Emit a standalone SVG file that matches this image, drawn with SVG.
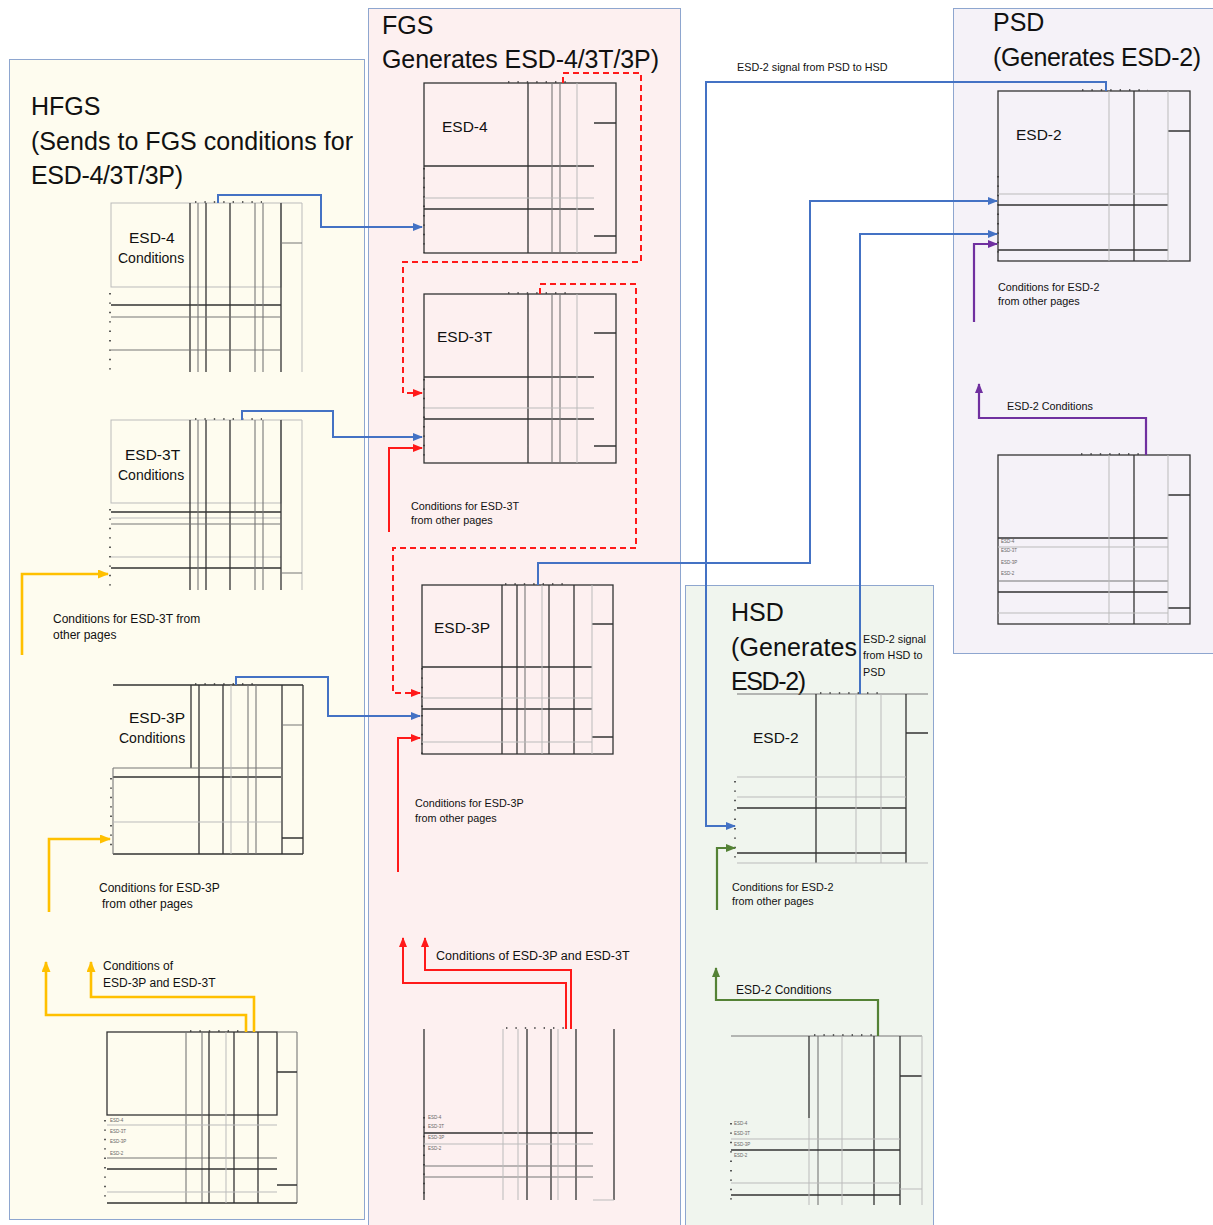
<svg xmlns="http://www.w3.org/2000/svg" width="1213" height="1225" viewBox="0 0 1213 1225">
<style>
.dk{stroke:#333;stroke-width:1.3;fill:none}
.md{stroke:#777;stroke-width:1.1;fill:none}
.lt{stroke:#bbb;stroke-width:1;fill:none}
.dt{stroke:#333;stroke-width:1.6;fill:none;stroke-dasharray:1.4 8}
.t{font-family:"Liberation Sans",Arial,sans-serif;fill:#111}
.ttl{font-size:25px}
.bl{font-size:15.5px}
.bs{font-size:14px}
.sm{font-size:10.8px}
.tiny{font-size:4.5px;fill:#666}
.blue{stroke:#4472c4;stroke-width:2;fill:none}
.red{stroke:#ff1a1a;stroke-width:2;fill:none}
.redd{stroke:#ff1a1a;stroke-width:2;fill:none;stroke-dasharray:6 4}
.yel{stroke:#ffc000;stroke-width:2.6;fill:none}
.grn{stroke:#548235;stroke-width:2.2;fill:none}
.pur{stroke:#7030a0;stroke-width:2.2;fill:none}
</style>
<defs>
<marker id="ab" markerUnits="userSpaceOnUse" markerWidth="10" markerHeight="8" refX="9" refY="4" orient="auto"><path d="M0,0L10,4L0,8z" fill="#4472c4"/></marker>
<marker id="ar" markerUnits="userSpaceOnUse" markerWidth="10" markerHeight="8" refX="9" refY="4" orient="auto"><path d="M0,0L10,4L0,8z" fill="#ff1a1a"/></marker>
<marker id="ay" markerUnits="userSpaceOnUse" markerWidth="11" markerHeight="9" refX="10" refY="4.5" orient="auto"><path d="M0,0L11,4.5L0,9z" fill="#ffc000"/></marker>
<marker id="ag" markerUnits="userSpaceOnUse" markerWidth="10" markerHeight="8" refX="9" refY="4" orient="auto"><path d="M0,0L10,4L0,8z" fill="#548235"/></marker>
<marker id="ap" markerUnits="userSpaceOnUse" markerWidth="10" markerHeight="8" refX="9" refY="4" orient="auto"><path d="M0,0L10,4L0,8z" fill="#7030a0"/></marker>
</defs>
<rect width="1213" height="1225" fill="#ffffff"/>

<g id="panel-hfgs">
<rect x="9.5" y="59.5" width="355" height="1160" fill="#fefcef" stroke="#8ea6cf"/>
<text class="t ttl" x="31" y="115">HFGS</text>
<text class="t ttl" x="31" y="150" textLength="322">(Sends to FGS conditions for</text>
<text class="t ttl" x="31" y="184" textLength="152">ESD-4/3T/3P)</text>
</g>
<g id="panel-fgs">
<rect x="368.5" y="8.5" width="312" height="1225" fill="#fdf0f0" stroke="#8ea6cf"/>
<text class="t ttl" x="382" y="34">FGS</text>
<text class="t ttl" x="382" y="68" textLength="277">Generates ESD-4/3T/3P)</text>
</g>
<g id="panel-psd">
<rect x="953.5" y="8.5" width="265" height="645" fill="#f5f2f8" stroke="#8ea6cf"/>
<text class="t ttl" x="993" y="31">PSD</text>
<text class="t ttl" x="993" y="66" textLength="208">(Generates ESD-2)</text>
</g>
<g id="panel-hsd">
<rect x="685.5" y="585.5" width="248" height="645" fill="#f0f5ee" stroke="#8ea6cf"/>
<text class="t ttl" x="731" y="621">HSD</text>
<text class="t ttl" x="731" y="656" textLength="126">(Generates</text>
<text class="t ttl" x="731" y="690" textLength="75">ESD-2)</text>
</g>

<g id="hfgs-esd4-cond">
<rect x="111" y="203" width="170" height="84" class="lt"/>
<path class="lt" d="M281 203H302M302 203V372"/>
<path class="dk" d="M190 203V372M206 203V372M230 203V372M281 203V372M111 305H281"/>
<path class="md" d="M198 203V372M255 203V372M263 203V372M111 317H281M111 350H281M281 243H302"/>
<path class="dt" d="M110 293V372M195 202H262"/>
<text class="t bl" x="129" y="243">ESD-4</text>
<text class="t bs" x="118" y="263">Conditions</text>
</g>

<g id="hfgs-esd3t-cond">
<rect x="111" y="420" width="170" height="83" class="lt"/>
<path class="lt" d="M281 420H302M302 420V590M111 518H281M111 557H281"/>
<path class="dk" d="M190 420V590M206 420V590M230 420V590M281 420V590M111 512H281M111 568H281"/>
<path class="md" d="M198 420V590M255 420V590M263 420V590M111 524H281M281 573H302"/>
<path class="dt" d="M110 509V590M195 419H262"/>
<text class="t bl" x="125" y="460">ESD-3T</text>
<text class="t bs" x="118" y="480">Conditions</text>
</g>

<g id="hfgs-esd3p-cond">
<path class="dk" d="M113 685H303M191 685V768M113 777H281M199 685V854M223 685V854M282 685V854M303 685V854M282 838H303M113 854H303"/>
<path class="md" d="M113 768H281M248 685V854M256 685V854M282 725H303M113 768V854"/>
<path class="lt" d="M231 685V854M113 822H281"/>
<path class="dt" d="M111 778V852M195 684H260"/>
<text class="t bl" x="129" y="723">ESD-3P</text>
<text class="t bs" x="119" y="743">Conditions</text>
</g>

<g id="hfgs-bottom">
<rect x="107" y="1032" width="170" height="83" class="dk"/>
<path class="md" d="M277 1032H297M297 1032V1203M186 1032V1203M202 1032V1203M107 1158H277"/>
<path class="dk" d="M209 1032V1203M234 1032V1203M258 1032V1203M107 1169H277M107 1203H297M277 1072H297M277 1185H297"/>
<path class="lt" d="M226 1032V1203M107 1125H277M107 1192H277"/>
<path class="dt" d="M105 1120V1203M190 1031H240"/>
<text class="t tiny" x="110" y="1122">ESD-4</text>
<text class="t tiny" x="110" y="1133">ESD-3T</text>
<text class="t tiny" x="110" y="1143">ESD-3P</text>
<text class="t tiny" x="110" y="1155">ESD-2</text>
</g>

<g id="fgs-esd4">
<rect x="424" y="83" width="192" height="170" class="dk"/>
<path class="dk" d="M528 83V253M424 166H594M424 209H594M594 123H616M594 236H616"/>
<path class="md" d="M552 83V253M560 83V253"/>
<path class="lt" d="M577 83V253M424 198H594"/>
<path class="dt" d="M424 168V253M508 82H568"/>
<text class="t bl" x="442" y="132">ESD-4</text>
</g>

<g id="fgs-esd3t">
<rect x="424" y="294" width="192" height="169" class="dk"/>
<path class="dk" d="M528 294V463M424 377H594M424 419H594M594 333H616M594 446H616"/>
<path class="md" d="M552 294V463M560 294V463"/>
<path class="lt" d="M577 294V463M424 408H594"/>
<path class="dt" d="M424 379V463M508 293H572"/>
<text class="t bl" x="437" y="342">ESD-3T</text>
</g>

<g id="fgs-esd3p">
<rect x="422" y="585" width="191" height="169" class="dk"/>
<path class="dk" d="M502 585V754M422 667H592M517 585V754M549 585V754M574 585V754M422 709H592M592 624H613M592 737H613"/>
<path class="md" d="M525 585V754"/>
<path class="lt" d="M542 585V754M592 585V754M422 698H592M422 742H592"/>
<path class="dt" d="M422 668V754M505 584H570"/>
<text class="t bl" x="434" y="633">ESD-3P</text>
</g>

<g id="fgs-bottom">
<path class="dk" d="M424 1029V1200M527 1029V1200M551 1029V1200M576 1029V1200M614 1029V1200M424 1133H593"/>
<path class="md" d="M424 1166H593M424 1177H593"/>
<path class="lt" d="M503 1029V1200M518 1029V1200M558 1029V1200M424 1144H593M593 1200H614"/>
<path class="dt" d="M424 1117V1200M506 1028H572"/>
<text class="t tiny" x="428" y="1119">ESD-4</text>
<text class="t tiny" x="428" y="1128">ESD-3T</text>
<text class="t tiny" x="428" y="1139">ESD-3P</text>
<text class="t tiny" x="428" y="1150">ESD-2</text>
</g>

<g id="psd-esd2">
<rect x="998" y="91" width="192" height="170" class="dk"/>
<path class="dk" d="M1134 91V261M998 205H1168M998 250H1168M1168 131H1190"/>
<path class="lt" d="M1109 91V261M1168 91V261M998 194H1168"/>
<path class="dt" d="M998 176V261M1082 90H1148"/>
<text class="t bl" x="1016" y="140">ESD-2</text>
</g>

<g id="psd-bottom">
<rect x="998" y="455" width="192" height="169" class="dk"/>
<path class="dk" d="M1134 455V624M998 538H1168M998 592H1168M1168 495H1190M1168 608H1190"/>
<path class="md" d="M998 581H1168"/>
<path class="lt" d="M1109 455V624M1168 455V624M998 547H1168M998 613H1168"/>
<path class="dt" d="M1081 454H1140"/>
<text class="t tiny" x="1001" y="543">ESD-4</text>
<text class="t tiny" x="1001" y="552">ESD-3T</text>
<text class="t tiny" x="1001" y="564">ESD-3P</text>
<text class="t tiny" x="1001" y="575">ESD-2</text>
</g>

<g id="hsd-esd2">
<path class="md" d="M737 694H928"/>
<path class="dk" d="M816 694V863M906 694V863M737 808H906M737 853H906M906 733H928"/>
<path class="lt" d="M856 694V863M881 694V863M737 777H906M737 797H906M737 863H928"/>
<path class="dt" d="M735 781V862M820 693H885"/>
<text class="t bl" x="753" y="743">ESD-2</text>
</g>

<g id="hsd-bottom">
<path class="md" d="M731 1036H922M818 1036V1205"/>
<path class="dk" d="M809 1036V1118M874 1036V1205M900 1036V1205M731 1150H900M731 1195H900M900 1076H922"/>
<path class="lt" d="M809 1118V1205M842 1036V1205M922 1036V1205M731 1139H900M731 1183H900M900 1189H922"/>
<path class="dt" d="M731 1123V1205M814 1035H872"/>
<text class="t tiny" x="734" y="1125">ESD-4</text>
<text class="t tiny" x="734" y="1135">ESD-3T</text>
<text class="t tiny" x="734" y="1146">ESD-3P</text>
<text class="t tiny" x="734" y="1157">ESD-2</text>
</g>

<g id="connectors">
<path class="blue" d="M218 203V195H321V227H422" marker-end="url(#ab)"/>
<path class="blue" d="M242 420V411H333V437H422" marker-end="url(#ab)"/>
<path class="blue" d="M236 685V677H328V716H420" marker-end="url(#ab)"/>
<path class="blue" d="M538 585V563H810V201H997" marker-end="url(#ab)"/>
<path class="blue" d="M1106 91V82H706V826H735" marker-end="url(#ab)"/>
<path class="blue" d="M860 694V234H997" marker-end="url(#ab)"/>
<path class="redd" d="M563 83V73H641V262H403V393H422" marker-end="url(#ar)"/>
<path class="redd" d="M540 294V284H636V548H393V693H420" marker-end="url(#ar)"/>
<path class="red" d="M389 532V448H422" marker-end="url(#ar)"/>
<path class="red" d="M398 872V738H420" marker-end="url(#ar)"/>
<path class="red" d="M566 1029V983H403V938" marker-end="url(#ar)"/>
<path class="red" d="M571 1029V970H425V938" marker-end="url(#ar)"/>
<path class="yel" d="M22 655V574H108" marker-end="url(#ay)"/>
<path class="yel" d="M49 912V839H110" marker-end="url(#ay)"/>
<path class="yel" d="M246 1032V1015H46V962" marker-end="url(#ay)"/>
<path class="yel" d="M254 1032V997H91V962" marker-end="url(#ay)"/>
<path class="grn" d="M717 910V848H735" marker-end="url(#ag)"/>
<path class="grn" d="M878 1036V1000H716V968" marker-end="url(#ag)"/>
<path class="pur" d="M974 322V244H997" marker-end="url(#ap)"/>
<path class="pur" d="M1146 455V418H979V384" marker-end="url(#ap)"/>
</g>

<g id="labels">
<text class="t sm" x="737" y="71">ESD-2 signal from PSD to HSD</text>
<text class="t sm" x="863" y="643">ESD-2 signal</text>
<text class="t sm" x="863" y="659">from HSD to</text>
<text class="t sm" x="863" y="676">PSD</text>
<text class="t sm" x="998" y="291">Conditions for ESD-2</text>
<text class="t sm" x="998" y="305">from other pages</text>
<text class="t sm" x="1007" y="410">ESD-2 Conditions</text>
<text class="t sm" x="411" y="510">Conditions for ESD-3T</text>
<text class="t sm" x="411" y="524">from other pages</text>
<text class="t sm" x="415" y="807">Conditions for ESD-3P</text>
<text class="t sm" x="415" y="822">from other pages</text>
<text class="t" style="font-size:12.5px" x="436" y="960">Conditions of ESD-3P and ESD-3T</text>
<text class="t" style="font-size:12px" x="53" y="623">Conditions for ESD-3T from</text>
<text class="t" style="font-size:12px" x="53" y="639">other pages</text>
<text class="t" style="font-size:12px" x="99" y="892">Conditions for ESD-3P</text>
<text class="t" style="font-size:12px" x="102" y="908">from other pages</text>
<text class="t" style="font-size:12px" x="103" y="970">Conditions of</text>
<text class="t" style="font-size:12px" x="103" y="987">ESD-3P and ESD-3T</text>
<text class="t sm" x="732" y="891">Conditions for ESD-2</text>
<text class="t sm" x="732" y="905">from other pages</text>
<text class="t" style="font-size:12px" x="736" y="994">ESD-2 Conditions</text>
</g>
</svg>
